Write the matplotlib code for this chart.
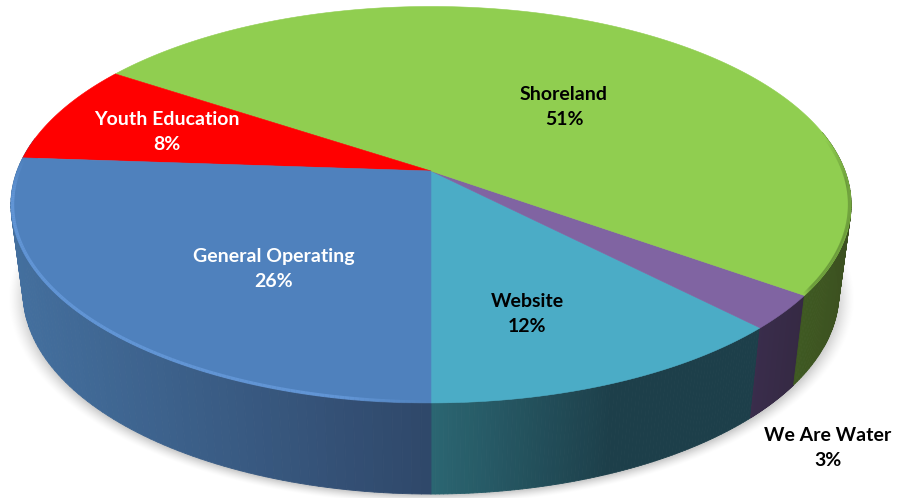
import numpy as np
import matplotlib
matplotlib.use("Agg")
import matplotlib.pyplot as plt
from matplotlib.collections import PolyCollection, LineCollection

# Data (shares in percent, front of the pie going counter clockwise)
categories = ["Website", "We Are Water", "Shoreland", "Youth Education", "General Operating"]
shares = [12.3, 2.8, 50.6, 8.2, 26.1]

top_colors = ["#4bacc6", "#8064a2", "#90ce50", "#ff0000", "#4f81bd"]
text_colors = ["black", "black", "black", "white", "white"]
label_x = [527, 828, 564, 167, 274]
label_y = [314, 448, 107, 132, 269]

# wall colours: colour at the left and right of each slice's wall
wall_left = ["#2b6672", "#3a2d4c", "#3f5a22", "#800000", "#44709f"]
wall_right = ["#1d3f4a", "#352943", "#3c5020", "#800000", "#2f4769"]
wall_x_range = [(431, 610), (752, 803), (795, 852), (20, 120), (12, 431)]

K = 0.17  # perspective of the pie


def project(theta, cy, f, g):
    x = np.cos(theta)
    y = np.sin(theta)
    d = 1 + K * y
    return 431 + f * x / d, cy - g * y / d


def top_pts(theta, r=1.0):
    return project(theta, 171, 414 * r, 192.5 * r)


def bottom_pts(theta):
    return project(theta, 258.5, 402, 195.5)


def mix(c1, c2, t):
    a = np.array(matplotlib.colors.to_rgb(c1))
    b = np.array(matplotlib.colors.to_rgb(c2))
    return tuple(a + (b - a) * min(max(t, 0), 1))


def rim(a0, a1, color, fade_in, fade_out, peak, lw):
    th = np.linspace(a0, a1, 160)
    rx, ry = top_pts(th, 0.996)
    segs = [[(rx[j], ry[j]), (rx[j + 1], ry[j + 1])] for j in range(len(th) - 1)]
    t = np.linspace(0, 1, len(segs))
    al = peak * np.clip(t / fade_in, 0, 1) * np.clip((1 - t) / fade_out, 0, 1)
    rgb = matplotlib.colors.to_rgb(color)
    cols = [(rgb[0], rgb[1], rgb[2], v) for v in al]
    ax.add_collection(LineCollection(segs, colors=cols, linewidths=lw, zorder=4, capstyle="butt"))


fig = plt.figure(figsize=(9.04, 4.98), dpi=100)
ax = fig.add_axes([0, 0, 1, 1])

# Soft shadow under the pie
xx, yy = np.meshgrid(np.arange(0, 904), np.arange(0, 498))
rad = np.sqrt(((xx - 431) / 424) ** 2 + ((yy - 298) / 206) ** 2)
alpha = np.clip((1.0 - rad) / 0.045, 0, 1) ** 1.5 * 0.2
shadow = np.zeros((498, 904, 4))
shadow[..., 3] = alpha
ax.imshow(shadow, extent=(0, 904, 498, 0), aspect="auto", zorder=1)

# Slice boundaries in radians, starting at the front point
fractions = np.array(shares) / sum(shares)
edges = -np.pi / 2 + np.concatenate([[0], np.cumsum(fractions)]) * 2 * np.pi

# Side walls, only the part facing the viewer
for i in range(len(categories)):
    a0, a1 = edges[i], edges[i + 1]
    if categories[i] == "General Operating":
        a0 = np.radians(170)
        a1 = np.radians(270)
    elif categories[i] == "Shoreland":
        a1 = np.radians(12)
    elif categories[i] == "Youth Education":
        continue
    th = np.linspace(a0, a1, 90)
    tx, ty = top_pts(th)
    bx, by = bottom_pts(th)
    quads = []
    cols = []
    xmin, xmax = wall_x_range[i]
    for j in range(len(th) - 1):
        quads.append([(tx[j], ty[j]), (tx[j + 1], ty[j + 1]), (bx[j + 1], by[j + 1]), (bx[j], by[j])])
        cols.append(mix(wall_left[i], wall_right[i], ((tx[j] + bx[j]) / 2 - xmin) / (xmax - xmin)))
    ax.add_collection(PolyCollection(quads, facecolors=cols, edgecolors=cols, linewidths=0.6, zorder=2))

# Top face
for i in range(len(categories)):
    th = np.linspace(edges[i], edges[i + 1], 200)
    tx, ty = top_pts(th)
    ax.fill(np.r_[431, tx], np.r_[171, ty], color=top_colors[i], lw=0.4, zorder=3)

# Lighter and darker rim on the front edge
rim(np.radians(176), np.radians(270), "#6a9ee0", 0.12, 0.1, 0.7, 2.4)
rim(edges[2], np.radians(10), "#5f8a34", 0.05, 0.3, 0.75, 2.2)

# Labels
for i in range(len(categories)):
    ax.text(label_x[i], label_y[i], f"{categories[i]}\n{round(shares[i])}%", color=text_colors[i],
            ha="center", va="center", fontsize=14, fontweight="bold", family="Lato",
            linespacing=1.6, zorder=5)

ax.set_xlim(0, 904)
ax.set_ylim(498, 0)
ax.axis("off")
fig.savefig("out.png", dpi=100)
